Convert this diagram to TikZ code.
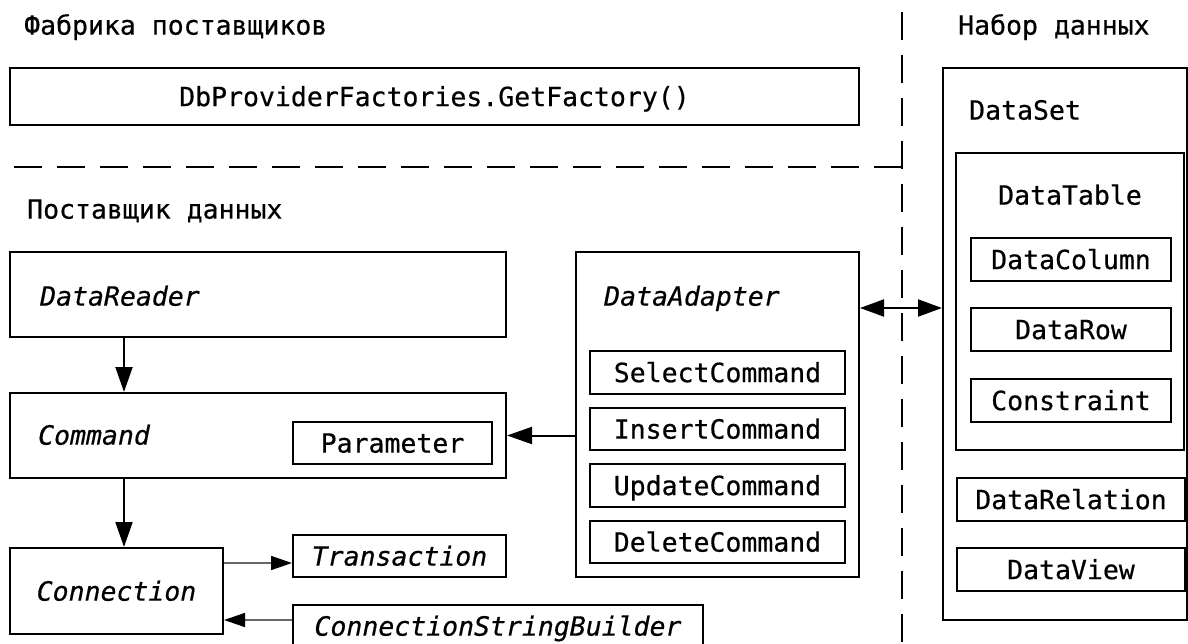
\documentclass[tikz,border=0pt]{standalone}
\usepackage{fontspec}
\setmonofont{DejaVu Sans Mono}[FakeBold=0.5]
\usetikzlibrary{arrows.meta}
\begin{document}
\begin{tikzpicture}[x=1pt,y=-1pt,
  fnt/.style={font=\ttfamily\fontsize{26.5}{30}\selectfont},
  box/.style={draw, line width=2pt, inner sep=0pt, fnt, text height=19.3pt, text depth=0pt},
  lbl/.style={inner sep=0pt, fnt, text height=19.3pt, text depth=0pt},
  ilbl/.style={lbl, font=\ttfamily\itshape\fontsize{26.5}{30}\selectfont},
  ibox/.style={box, font=\ttfamily\itshape\fontsize{26.5}{30}\selectfont},
  arr/.style={line width=2pt, -{Triangle[length=25pt,width=17pt]}},
  dblarr/.style={line width=2pt, {Triangle[length=24pt,width=17pt]}-{Triangle[length=24pt,width=17pt]}},
  thinarr/.style={line width=1.5pt, draw=black!60, -{Triangle[length=21pt,width=14pt,color=black]}},
  dsh/.style={line width=2pt, dash pattern=on 28pt off 15pt}]
\useasboundingbox (0,0) rectangle (1188,644);

% headers
\node[lbl, anchor=west] (h1) at (24,25) {Фабрика поставщиков};
\node[lbl, anchor=west] (h2) at (27,209) {Поставщик данных};
\node[lbl, anchor=west] (h3) at (958,25) {Набор данных};

% separators
\draw[dsh] (902,167) -- (0,167);
\draw[dsh] (902,12) -- (902,650);

% factory
\node[box, minimum width=849pt, minimum height=57pt] (fact) at (434.5,96.5) {DbProviderFactories.GetFactory()};

% data set
\node[box, minimum width=244pt, minimum height=552pt] (dset) at (1065,344) {};
\node[lbl, anchor=west] (dsetl) at (969,110) {DataSet};
\node[box, minimum width=228pt, minimum height=297pt] (dtable) at (1070,301.5) {};
\node[lbl] (dtablel) at (1070,195) {DataTable};
\node[box, minimum width=200pt, minimum height=43pt] (dcol) at (1071,259.5) {DataColumn};
\node[box, minimum width=200pt, minimum height=43pt] (drow) at (1071,329.5) {DataRow};
\node[box, minimum width=200pt, minimum height=43pt] (cons) at (1071,400.5) {Constraint};
\node[box, minimum width=228pt, minimum height=43pt] (drel) at (1071,499.5) {DataRelation};
\node[box, minimum width=228pt, minimum height=43pt] (dview) at (1071,569.5) {DataView};

% provider
\node[box, minimum width=496pt, minimum height=85pt] (reader) at (258,294.5) {};
\node[ilbl, anchor=west] (readerl) at (40,296) {DataReader};
\node[box, minimum width=496pt, minimum height=85pt] (cmd) at (258,435.5) {};
\node[ilbl, anchor=west] (cmdl) at (38,435) {Command};
\node[box, minimum width=199pt, minimum height=42pt] (param) at (392.5,443) {Parameter};
\node[ibox, minimum width=213pt, minimum height=86pt] (conn) at (116.5,591) {Connection};
\node[ibox, minimum width=213pt, minimum height=42pt] (trans) at (399.5,556) {Transaction};
\node[ibox, minimum width=410pt, minimum height=42pt] (csb) at (498,626) {ConnectionStringBuilder};

% adapter
\node[box, minimum width=283pt, minimum height=325pt] (adapter) at (717.5,414.5) {};
\node[ilbl, anchor=west] (adapterl) at (604,296) {DataAdapter};
\node[box, minimum width=255pt, minimum height=43pt] (sel) at (717.5,372.5) {SelectCommand};
\node[box, minimum width=255pt, minimum height=42pt] (ins) at (717.5,429) {InsertCommand};
\node[box, minimum width=255pt, minimum height=43pt] (upd) at (717.5,485.5) {UpdateCommand};
\node[box, minimum width=255pt, minimum height=42pt] (del) at (717.5,542) {DeleteCommand};

% connectors
\coordinate (colx) at (124,0);
\coordinate (ty) at (0,563);
\coordinate (cy) at (0,620);
\coordinate (dy) at (0,308);
\draw[arr] (reader.south -| colx) -- (cmd.north -| colx);
\draw[arr] (cmd.south -| colx) -- (conn.north -| colx);
\draw[arr] (adapter.west |- cmd.east) -- (cmd.east);
\draw[thinarr] (conn.east |- ty) -- (trans.west |- ty);
\draw[thinarr] (csb.west |- cy) -- (conn.east |- cy);
\draw[dblarr] (adapter.east |- dy) -- (dset.west |- dy);
\end{tikzpicture}
\end{document}
